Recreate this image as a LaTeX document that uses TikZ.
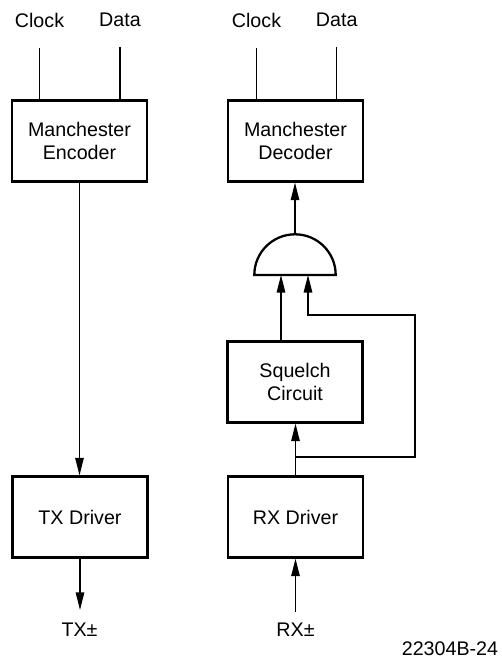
\documentclass[tikz,border=0pt]{standalone}
\usepackage{fontspec}
\setmainfont{Liberation Sans}
\usetikzlibrary{arrows.meta}
\tikzstyle{every picture}+=[font=\fontsize{11.2}{13.5}\selectfont]
\tikzstyle{block}=[draw, line width=1.3pt, minimum width=2.7cm, minimum height=1.62cm, inner sep=0pt, align=center]
\tikzstyle{pinlabel}=[inner sep=0pt]
\tikzstyle{wire}=[line width=0.7pt]
\tikzstyle{flow}=[wire, -{Triangle[length=0.35cm,width=0.17cm]}]

\begin{document}
\begin{tikzpicture}[x=0.02cm,y=0.02cm]
\useasboundingbox (0,0) rectangle (502,-659);

%% Blocks
\node[block] (enc) at (79.5,-141) {Manchester\\Encoder};
\node[block] (dec) at (295.5,-141) {Manchester\\Decoder};
\node[block] (squ) at (295,-382) {Squelch\\Circuit};
\node[block] (tx) at (80,-517) {TX Driver};
\node[block] (rx) at (295.5,-517) {RX Driver};

%% Gate
\draw[line width=1.3pt] (254.3,-275) arc (180:0:40.7) -- cycle;
\coordinate (gout) at (295,-234.3);
\coordinate (gina) at (281,-275);
\coordinate (ginb) at (308,-275);

%% Labels
\node[pinlabel] (clkE) at (39.5,-20) {Clock};
\node[pinlabel] (datE) at (120,-20) {Data};
\node[pinlabel] (clkD) at (256.5,-20) {Clock};
\node[pinlabel] (datD) at (336.7,-20) {Data};
\node[pinlabel] (txl) at (79.5,-630) {TX±};
\node[pinlabel] (rxl) at (295.5,-630) {RX±};
\node[pinlabel] (fig) at (450,-648.5) {22304B-24};

%% Inputs
\draw[wire, shorten <=0.4cm] (clkE.south) -- (clkE.south |- enc.north);
\draw[wire, shorten <=0.4cm] (datE.south) -- (datE.south |- enc.north);
\draw[wire, shorten <=0.4cm] (clkD.south) -- (clkD.south |- dec.north);
\draw[wire, shorten <=0.4cm] (datD.south) -- (datD.south |- dec.north);

%% Transmit path
\draw[flow] (enc.south) -- (enc.south |- tx.north);
\draw[flow, shorten >=0.26cm] (tx.south) -- (tx.south |- txl.north);

%% Receive path
\draw[flow, shorten <=0.22cm] (rx.south |- rxl.north) -- (rx.south);
\draw[flow] (rx.north) -- (rx.north |- squ.south);
\draw[flow] (squ.north -| gina) -- (gina);
\draw[flow] (gout) -- (gout |- dec.south);
\coordinate (tap) at (295.5,-457);
\coordinate (loop) at (415,-315);
\draw[flow] (tap) -| (loop) -| (ginb);

\end{tikzpicture}
\end{document}
